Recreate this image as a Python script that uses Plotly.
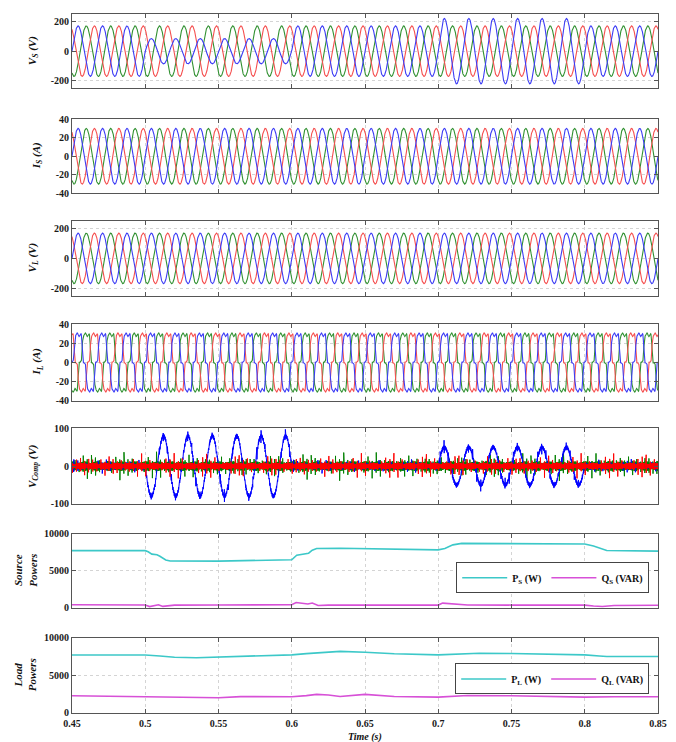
import numpy as np
import plotly.graph_objects as go

# ------------------------------------------------------------------ data
T_RANGE = [0.45, 0.85]
X_TICKS = [0.45, 0.5, 0.55, 0.6, 0.65, 0.7, 0.75, 0.8, 0.85]
F_GRID = 60.0

# event windows (s) and phase-a source-voltage amplitude in each window (V)
EVENT_T = [0.45, 0.50, 0.60, 0.70, 0.80, 0.85]
VS_A_AMP = [170, 85, 170, 220, 170]
VS_BC_AMP = 170
IS_AMP = 30
VL_AMP = 170
# load current harmonic content (order, sine amplitude A, cosine amplitude A)
IL_HARM_ORDER = [1, 5, 7, 11, 13]
IL_HARM_SIN = [32.0, -5.0, -3.0, 1.0, 0.7]
IL_HARM_COS = [0.0, 1.2, -0.8, 0.0, 0.0]
# compensating voltage, phase a fundamental amplitude per window (V)
VCOMP_A_AMP = [0, -80, 0, 50, 0]
# switching ripple band / spike heights per phase (a, b, c) (V)
VCOMP_BAND = [5, 8, 12]
VCOMP_SPIKE = [18, 30, 28]

# source powers
PS_T = [0.45, 0.50, 0.502, 0.5045, 0.508, 0.510, 0.514, 0.517, 0.55, 0.60, 0.6034, 0.608, 0.6115,
        0.614, 0.617, 0.633, 0.65, 0.70, 0.7045, 0.71, 0.716, 0.75, 0.80, 0.806, 0.815, 0.85]
PS_W = [7700, 7700, 7550, 7230, 7140, 6950, 6450, 6300, 6290, 6480, 7090, 7230, 7360,
        7760, 7980, 8030, 7980, 7800, 7980, 8480, 8680, 8650, 8600, 8330, 7720, 7630]
QS_T = [0.45, 0.50, 0.503, 0.506, 0.509, 0.512, 0.515, 0.52, 0.55, 0.60, 0.603, 0.607, 0.611,
        0.614, 0.618, 0.625, 0.65, 0.70, 0.703, 0.708, 0.72, 0.75, 0.80, 0.806, 0.812, 0.82, 0.85]
QS_VAR = [420, 400, 180, 330, 420, 200, 260, 380, 400, 420, 720, 620, 520, 660, 320, 380,
          380, 380, 640, 560, 400, 380, 380, 260, 180, 330, 350]
# load powers
PL_T = [0.45, 0.50, 0.51, 0.52, 0.535, 0.55, 0.58, 0.60, 0.61, 0.62, 0.633, 0.65, 0.67,
        0.70, 0.715, 0.728, 0.75, 0.78, 0.80, 0.81, 0.815, 0.85]
PL_W = [7700, 7700, 7560, 7400, 7340, 7420, 7580, 7720, 7880, 7980, 8180, 8060, 7860,
        7710, 7850, 7930, 7890, 7790, 7710, 7560, 7490, 7490]
QL_T = [0.45, 0.48, 0.50, 0.52, 0.55, 0.565, 0.58, 0.60, 0.61, 0.617, 0.625, 0.633, 0.65,
        0.67, 0.70, 0.72, 0.75, 0.77, 0.80, 0.82, 0.85]
QL_VAR = [2280, 2220, 2160, 2100, 2030, 2180, 2200, 2160, 2300, 2470, 2380, 2200, 2470,
          2200, 2110, 2330, 2290, 2200, 2110, 2160, 2160]

# ------------------------------------------------------------------ styling / layout
FONT = "Times New Roman, Liberation Serif, serif"
C_RED, C_GREEN, C_BLUE = "rgb(245,80,80)", "rgb(50,145,50)", "rgb(60,60,245)"
CV_RED, CV_GREEN, CV_BLUE = "rgb(255,0,0)", "rgb(0,128,0)", "rgb(0,0,255)"
C_P, C_Q = "rgb(60,200,200)", "rgb(215,80,215)"
W, H = 676, 742
ML, MR, MT, MB = 72, 18, 8, 29
PANEL_PX = [(8, 83), (114, 189), (217, 292), (321, 398), (426, 502), (532, 607), (637, 713)]
PH = H - MT - MB

# ------------------------------------------------------------------ signals
t = np.linspace(T_RANGE[0], T_RANGE[1], 6001)
th = 2 * np.pi * F_GRID * t
SHIFT = [0.0, 2 * np.pi / 3, -2 * np.pi / 3]   # a (blue), b (red), c (green)


def piecewise(tt, vals):
    idx = np.clip(np.searchsorted(EVENT_T, tt, side="right") - 1, 0, len(vals) - 1)
    return np.asarray(vals, dtype=float)[idx]


amp_a = piecewise(t, VS_A_AMP)
vs = [amp_a * np.sin(th), VS_BC_AMP * np.sin(th + SHIFT[1]), VS_BC_AMP * np.sin(th + SHIFT[2])]
is_ = [IS_AMP * np.sin(th + s) for s in SHIFT]
vl = [VL_AMP * np.sin(th + s) for s in SHIFT]
il = []
for s in SHIFT:
    il.append(sum(a * np.sin(h * (th + s)) + b * np.cos(h * (th + s))
                  for h, a, b in zip(IL_HARM_ORDER, IL_HARM_SIN, IL_HARM_COS)))

th_hf = np.linspace(T_RANGE[0], T_RANGE[1], 24001)
w_hf = 2 * np.pi * F_GRID * th_hf


def ripple(tt, band, spike, ph):
    env = 0.6 + 0.4 * np.abs(np.sin(2 * np.pi * F_GRID * tt + ph))
    b = band * env * np.sin(2 * np.pi * 7300 * tt + 3 * ph)
    d = ((tt * 360 + ph / (2 * np.pi)) % 1.0) - 0.5
    p = np.exp(-(d / 0.035) ** 2) * np.sin(2 * np.pi * 4100 * tt + ph)
    var = 0.65 + 0.35 * np.sin(2 * np.pi * 47 * tt + 2 * ph)
    return b + spike * var * p


vc_a = piecewise(th_hf, VCOMP_A_AMP) * np.sin(w_hf) + ripple(th_hf, VCOMP_BAND[0], VCOMP_SPIKE[0], 0.4)
vc_b = ripple(th_hf, VCOMP_BAND[1], VCOMP_SPIKE[1], 2.5)
vc_c = ripple(th_hf, VCOMP_BAND[2], VCOMP_SPIKE[2], 4.6)

# ------------------------------------------------------------------ figure
fig = go.Figure()


def add3(row, sigs, cols, x, width=1.1):
    for sig, col in zip(sigs, cols):
        fig.add_trace(go.Scatter(x=x, y=sig, mode="lines", line=dict(color=col, width=width),
                                 showlegend=False, hoverinfo="skip",
                                 xaxis=f"x{row}", yaxis=f"y{row}"))


add3(1, [vs[2], vs[1], vs[0]], [C_GREEN, C_RED, C_BLUE], t)
add3(2, [is_[2], is_[1], is_[0]], [C_GREEN, C_RED, C_BLUE], t)
add3(3, [vl[2], vl[1], vl[0]], [C_GREEN, C_RED, C_BLUE], t)
add3(4, [il[2], il[1], il[0]], [C_GREEN, C_RED, C_BLUE], t)
add3(5, [vc_c, vc_a, vc_b], [CV_GREEN, CV_BLUE, CV_RED], th_hf, width=1)

fig.add_trace(go.Scatter(x=PS_T, y=PS_W, mode="lines", line=dict(color=C_P, width=1.6),
                         name="P<sub>S</sub> (W)", legend="legend", xaxis="x6", yaxis="y6"))
fig.add_trace(go.Scatter(x=QS_T, y=QS_VAR, mode="lines", line=dict(color=C_Q, width=1.6),
                         name="Q<sub>S</sub> (VAR)", legend="legend", xaxis="x6", yaxis="y6"))
fig.add_trace(go.Scatter(x=PL_T, y=PL_W, mode="lines", line=dict(color=C_P, width=1.6),
                         name="P<sub>L</sub> (W)", legend="legend2", xaxis="x7", yaxis="y7"))
fig.add_trace(go.Scatter(x=QL_T, y=QL_VAR, mode="lines", line=dict(color=C_Q, width=1.6),
                         name="Q<sub>L</sub> (VAR)", legend="legend2", xaxis="x7", yaxis="y7"))

Y_SPECS = [
    ([-250, 250], [-200, 0, 200]),
    ([-40, 40], [-40, -20, 0, 20, 40]),
    ([-250, 250], [-200, 0, 200]),
    ([-40, 40], [-40, -20, 0, 20, 40]),
    ([-100, 100], [-100, 0, 100]),
    ([0, 10000], [0, 5000, 10000]),
    ([0, 10000], [0, 5000, 10000]),
]
Y_TITLES = ["V<sub>S</sub> (V)", "I<sub>S</sub> (A)", "V<sub>L</sub> (V)", "I<sub>L</sub> (A)",
            "V<sub>Comp</sub> (V)", "Source<br>Powers", "Load<br>Powers"]
Y_TITLE_X = [33, 37, 33, 37, 33, 25, 25]

tickfont = dict(family=FONT, size=10, color="#1a1a1a", weight="bold")
axis_common = dict(showline=True, linecolor="#555", linewidth=1, mirror="ticks",
                   ticks="inside", ticklen=4, tickcolor="#555",
                   showgrid=True, gridcolor="#d4d4d4", griddash="dot", gridwidth=1,
                   zeroline=False, tickfont=tickfont)

layout = dict(width=W, height=H, margin=dict(l=ML, r=MR, t=MT, b=MB),
              paper_bgcolor="white", plot_bgcolor="white", showlegend=True)
annotations = []
for i, ((top, bot), (yr, yt)) in enumerate(zip(PANEL_PX, Y_SPECS), start=1):
    d0 = (H - MB - bot) / PH
    d1 = (H - MB - top) / PH
    layout[f"xaxis{i}"] = dict(domain=[0, 1], anchor=f"y{i}", range=T_RANGE, tickvals=X_TICKS,
                               ticktext=[f"{v:g}" for v in X_TICKS], ticklabelstandoff=1,
                               showticklabels=(i == 7), **axis_common)
    layout[f"yaxis{i}"] = dict(domain=[d0, d1], anchor=f"x{i}", range=yr, tickvals=yt,
                               ticktext=[f"{v:d}" for v in yt], **axis_common)
    annotations.append(dict(text=f"<i>{Y_TITLES[i-1]}</i>", xref="paper", yref="paper",
                            x=0, xshift=Y_TITLE_X[i-1] - ML, y=(d0 + d1) / 2,
                            textangle=-90, showarrow=False, xanchor="center", yanchor="middle",
                            font=dict(family=FONT, size=11, color="#111", weight="bold")))
annotations.append(dict(text="<i>Time (s)</i>", xref="paper", yref="paper", x=0.5, y=0,
                        yshift=-24, showarrow=False, xanchor="center", yanchor="middle",
                        font=dict(family=FONT, size=10, color="#111", weight="bold")))
layout["annotations"] = annotations

leg_common = dict(orientation="h", xanchor="right", yanchor="top", x=0.985,
                  bgcolor="white", bordercolor="#444", borderwidth=1, itemwidth=45,
                  font=dict(family=FONT, size=10, color="#111", weight="bold"))
layout["legend"] = dict(y=(H - MB - 561) / PH, **leg_common)
layout["legend2"] = dict(y=(H - MB - 663) / PH, **leg_common)

fig.update_layout(**layout)
fig.write_html("out.html", config={"displayModeBar": False},
               post_script="document.body.style.margin='0';document.body.style.padding='0';"
                           "document.body.style.overflow='hidden';")
